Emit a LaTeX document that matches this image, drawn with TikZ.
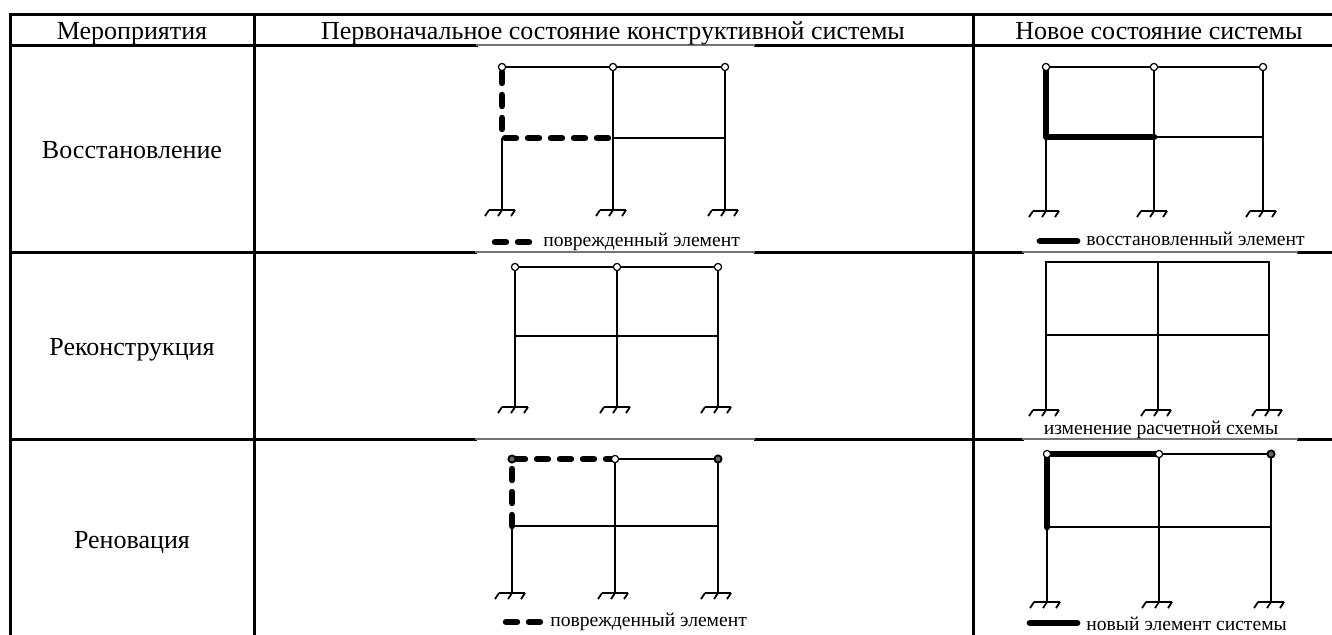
\documentclass[tikz,border=0pt]{standalone}
\usepackage{fontspec}
\setmainfont{Liberation Serif}
\tikzset{>=stealth}
\tikzset{
  tabl/.style={line width=1.5pt, line cap=rect},
  tonk/.style={line width=0.7pt, black!55},
  el/.style={line width=1.1pt},
  opora/.style={line width=0.9pt},
  povr/.style={line width=3.2pt, line cap=round, dash pattern=on 5.5pt off 6pt},
  nov/.style={line width=3.4pt, line cap=round, line join=round},
  zag/.style={font=\fontsize{13}{15}\selectfont, inner sep=0pt},
  podp/.style={font=\fontsize{9.8}{11}\selectfont, inner sep=0pt}
}

\begin{document}
\begin{tikzpicture}[x=0.5pt, y=-0.5pt]
\useasboundingbox (0,0) rectangle (1332,634);
% table
\draw[tabl] (10,14) -- (1332,14);
\draw[tabl] (10,45) -- (476,45) (755,45) -- (1332,45);
\draw[tonk] (476,45) -- (755,45);
\foreach \y in {252,439} {
  \draw[tabl] (10,\y) -- (475,\y) (755,\y) -- (1022,\y) (1298,\y) -- (1332,\y);
  \draw[tonk] (475,\y) -- (755,\y) (1022,\y) -- (1298,\y);
}
\foreach \x in {10,254,973}
  \draw[tabl] (\x,14) -- (\x,645);
% headers
\node[zag, anchor=base] (meropr) at (132,39) {Мероприятия};
\node[zag, anchor=base] (pervon) at (613,39) {Первоначальное состояние конструктивной системы};
\node[zag, anchor=base] (novoe) at (1159,39) {Новое состояние системы};
\node[zag, anchor=base] (vosst) at (132,158) {Восстановление};
\node[zag, anchor=base] (rekon) at (132,355) {Реконструкция};
\node[zag, anchor=base] (renov) at (132,548) {Реновация};
% supports
\foreach \c/\s in {502/210, 613/210, 725/210, 1046/211, 1154/211, 1263/211,
                   515/407, 617/407, 718/407, 1046/410, 1158/410, 1269/410,
                   512/593, 615/593, 718/593, 1047/602, 1159/602, 1271/602} {
  \draw[opora] (\c-13,\s) -- (\c+13,\s);
  \foreach \t in {-13,0,13}
    \draw[opora] (\c+\t,\s) -- (\c+\t-4,\s+6);
}
% row 1, initial state
\draw[el] (502,67) -- (725,67) (613,138) -- (725,138);
\draw[el] (502,138) -- (502,210) (613,67) -- (613,210) (725,67) -- (725,210);
\draw[povr] (502,72) -- (502,138) -- (613,138);
% row 1, new state
\draw[el] (1046,67) -- (1263,67) (1154,137) -- (1263,137);
\draw[el] (1046,137) -- (1046,211) (1154,67) -- (1154,211) (1263,67) -- (1263,211);
\draw[nov] (1046,67) -- (1046,137) -- (1154,137);
% row 2
\draw[el] (515,267) -- (718,267) (515,336) -- (718,336);
\foreach \x in {515,617,718}
  \draw[el] (\x,267) -- (\x,407);
\draw[el] (1046,410) -- (1046,262) -- (1269,262) -- (1269,410);
\draw[el] (1046,335) -- (1269,335) (1158,262) -- (1158,410);
% row 3, initial state
\draw[el] (615,459) -- (718,459) (512,526) -- (718,526);
\draw[el] (512,526) -- (512,593) (615,459) -- (615,593) (718,459) -- (718,593);
\draw[povr] (512,526) -- (512,459) -- (615,459);
% row 3, new state
\draw[el] (1159,454) -- (1271,454) (1047,527) -- (1271,527);
\draw[el] (1047,527) -- (1047,602) (1159,454) -- (1159,602) (1271,454) -- (1271,602);
\draw[nov] (1047,527) -- (1047,454) -- (1159,454);
% hinges
\foreach \x/\y in {502/67, 613/67, 725/67, 1046/67, 1154/67, 1263/67,
                   515/267, 617/267, 718/267, 615/459, 1047/454, 1159/454}
  \draw[line width=0.6pt, fill=white] (\x,\y) circle (1.8pt);
\foreach \x/\y in {512/459, 718/459, 1271/454}
  \draw[line width=0.9pt, fill=black!60] (\x,\y) circle (1.8pt);
% legends
\draw[povr] (495,242) -- (536,242);
\node[podp, anchor=base west] (povr1) at (543,246) {поврежденный элемент};
\draw[nov] (1040,241) -- (1077,241);
\node[podp, anchor=base west] (vosst1) at (1086,245) {восстановленный элемент};
\node[podp, anchor=base] (izmen) at (1161,434) {изменение расчетной схемы};
\draw[povr] (506,622) -- (547,622);
\node[podp, anchor=base west] (povr3) at (550,626) {поврежденный элемент};
\draw[nov] (1030,623) -- (1077,623);
\node[podp, anchor=base west] (novyj) at (1086,630) {новый элемент системы};
\end{tikzpicture}
\end{document}
